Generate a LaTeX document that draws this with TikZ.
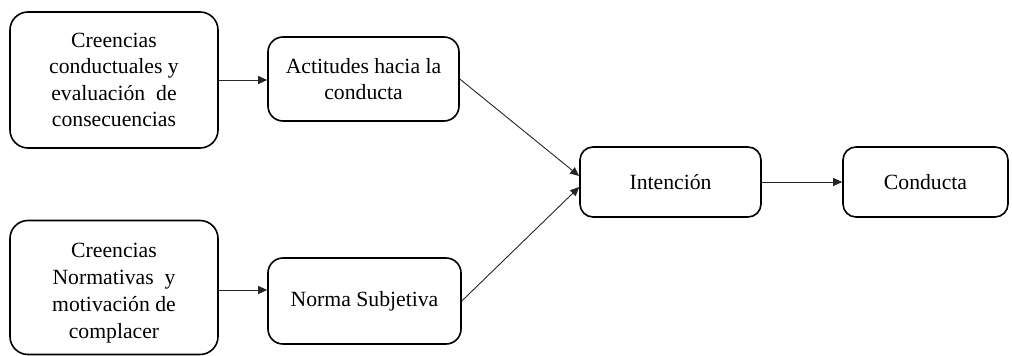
\documentclass[tikz,border=0pt]{standalone}
\usepackage{fontspec}
\setmainfont{Liberation Serif}
\usetikzlibrary{arrows.meta}
\begin{document}
\begin{tikzpicture}[x=1pt,y=-1pt,
  box/.style={draw=black, line width=1.6pt, rounded corners=#1, align=center, inner sep=0pt,
    font=\fontsize{21.7}{26.5}\selectfont},
  box/.default=13pt,
  txt/.style={align=center, inner sep=0pt, font=\fontsize{21.7}{26.8}\selectfont},
  conn/.style={draw=black!85, line width=0.9pt, -{Triangle[length=9pt,width=8pt]}}]
\useasboundingbox (0,0) rectangle (1012,356);
\node[box=18pt, minimum width=208pt, minimum height=136pt] (b1) at (114,80)
  {Creencias\\conductuales y\\evaluación\ \ de\\consecuencias};
\node[box=15pt, minimum width=191pt, minimum height=84pt] (b2) at (363.5,79)
  {Actitudes hacia la\\conducta};
\node[box=18pt, minimum width=208pt, minimum height=134pt] (b3) at (114,287.5) {};
\node[txt] (t3) at (114,293)
  {Creencias\\Normativas\ \ y\\motivación\ de\\complacer};
\node[box=15pt, minimum width=193pt, minimum height=86pt] (b4) at (364.5,301)
  {Norma Subjetiva};
\node[box=13pt, minimum width=181pt, minimum height=70pt] (b5) at (670.5,182)
  {Intención};
\node[box=13pt, minimum width=165pt, minimum height=70pt] (b6) at (925.5,182)
  {Conducta};
\coordinate (a3) at ([yshift=-2.5pt]b3.east);
\coordinate (i1) at ([yshift=6pt]b5.west);
\coordinate (i2) at ([yshift=-5pt]b5.west);
\draw[conn] (b1.east) -- (b2.west |- b1.east);
\draw[conn] (a3) -- (b4.west |- a3);
\draw[conn] (b2.east) -- (i1);
\draw[conn] (b4.east) -- (i2);
\draw[conn] (b5.east) -- (b6.west);
\end{tikzpicture}
\end{document}
